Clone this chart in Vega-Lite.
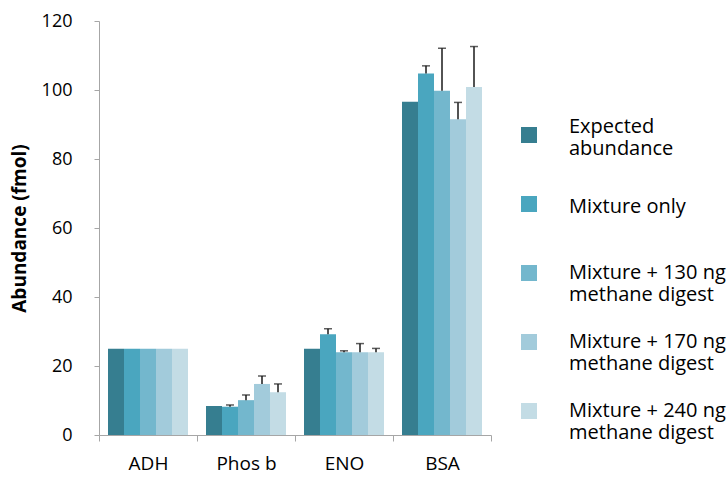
{
  "$schema": "https://vega.github.io/schema/vega-lite/v6.json",
  "width": 392,
  "height": 414,
  "autosize": "none",
  "padding": {"left": 99, "top": 21, "right": 236, "bottom": 69},
  "background": "white",
  "config": {
    "font": "Open Sans",
    "view": {"stroke": null}
  },
  "data": {
    "values": [
      {"protein": "ADH", "series": "Expected abundance", "value": 25, "upper": null},
      {"protein": "ADH", "series": "Mixture only", "value": 25, "upper": null},
      {"protein": "ADH", "series": "Mixture + 130 ng methane digest", "value": 25, "upper": null},
      {"protein": "ADH", "series": "Mixture + 170 ng methane digest", "value": 25, "upper": null},
      {"protein": "ADH", "series": "Mixture + 240 ng methane digest", "value": 25, "upper": null},
      {"protein": "Phos b", "series": "Expected abundance", "value": 8.4, "upper": null},
      {"protein": "Phos b", "series": "Mixture only", "value": 8.2, "upper": 8.7},
      {"protein": "Phos b", "series": "Mixture + 130 ng methane digest", "value": 10.1, "upper": 11.6},
      {"protein": "Phos b", "series": "Mixture + 170 ng methane digest", "value": 14.8, "upper": 17.1},
      {"protein": "Phos b", "series": "Mixture + 240 ng methane digest", "value": 12.4, "upper": 14.8},
      {"protein": "ENO", "series": "Expected abundance", "value": 25, "upper": null},
      {"protein": "ENO", "series": "Mixture only", "value": 29.2, "upper": 30.8},
      {"protein": "ENO", "series": "Mixture + 130 ng methane digest", "value": 24.0, "upper": 24.4},
      {"protein": "ENO", "series": "Mixture + 170 ng methane digest", "value": 24.0, "upper": 26.5},
      {"protein": "ENO", "series": "Mixture + 240 ng methane digest", "value": 24.0, "upper": 25.1},
      {"protein": "BSA", "series": "Expected abundance", "value": 96.6, "upper": null},
      {"protein": "BSA", "series": "Mixture only", "value": 104.8, "upper": 107.0},
      {"protein": "BSA", "series": "Mixture + 130 ng methane digest", "value": 99.8, "upper": 112.1},
      {"protein": "BSA", "series": "Mixture + 170 ng methane digest", "value": 91.5, "upper": 96.4},
      {"protein": "BSA", "series": "Mixture + 240 ng methane digest", "value": 100.9, "upper": 112.6}
    ]
  },
  "encoding": {
    "x": {
      "field": "protein",
      "type": "nominal",
      "sort": ["ADH", "Phos b", "ENO", "BSA"],
      "scale": {"paddingInner": 0, "paddingOuter": 0},
      "axis": {
        "title": null,
        "labelAngle": 0,
        "labelFontSize": 19,
        "labelColor": "#000000",
        "labelPadding": 13,
        "domainColor": "#a6a6a6",
        "tickColor": "#a6a6a6",
        "tickSize": 6,
        "tickBand": "extent"
      }
    },
    "xOffset": {
      "field": "series",
      "sort": [
        "Expected abundance",
        "Mixture only",
        "Mixture + 130 ng methane digest",
        "Mixture + 170 ng methane digest",
        "Mixture + 240 ng methane digest"
      ],
      "scale": {"paddingInner": 0, "paddingOuter": 0.5625}
    }
  },
  "layer": [
    {
      "mark": {"type": "bar"},
      "encoding": {
        "y": {
          "field": "value",
          "type": "quantitative",
          "scale": {"domain": [0, 120], "nice": false},
          "axis": {
            "values": [0, 20, 40, 60, 80, 100, 120],
            "grid": false,
            "title": "Abundance (fmol)",
            "titleFontSize": 19,
            "titleFontWeight": "bold",
            "titleColor": "#000000",
            "titlePadding": 12,
            "labelFontSize": 18,
            "labelColor": "#000000",
            "labelPadding": 22,
            "domainColor": "#a6a6a6",
            "tickColor": "#a6a6a6",
            "tickSize": 5
          }
        },
        "color": {
          "field": "series",
          "type": "nominal",
          "scale": {
            "domain": [
              "Expected abundance",
              "Mixture only",
              "Mixture + 130 ng methane digest",
              "Mixture + 170 ng methane digest",
              "Mixture + 240 ng methane digest"
            ],
            "range": ["#367e90", "#4aa6bf", "#73b7cd", "#a2cbdb", "#c3dce5"]
          },
          "legend": {
            "title": null,
            "orient": "none",
            "legendX": 420,
            "legendY": 104,
            "symbolType": "square",
            "symbolSize": 256,
            "symbolStrokeWidth": 0,
            "symbolOpacity": 1,
            "labelFontSize": 20,
            "labelColor": "#000000",
            "labelLimit": 300,
            "labelOffset": 30,
            "gridAlign": "all",
            "rowPadding": 27,
            "labelExpr": "datum.label == 'Expected abundance' ? ['Expected', 'abundance'] : datum.label == 'Mixture only' ? datum.label : [replace(datum.label, ' methane digest', ''), 'methane digest']",
            "encode": {
              "labels": {
                "update": {
                  "lineHeight": {"value": 21.5},
                  "dy": {"signal": "datum.label == 'Expected abundance' ? -8 : datum.label == 'Mixture only' ? 3 : 0"}
                }
              }
            }
          }
        }
      }
    },
    {
      "transform": [{"filter": "datum.upper != null"}],
      "mark": {"type": "rule", "color": "#1a1a1a", "strokeWidth": 1.5},
      "encoding": {
        "y": {"field": "value", "type": "quantitative"},
        "y2": {"field": "upper"}
      }
    },
    {
      "transform": [{"filter": "datum.upper != null"}],
      "mark": {"type": "tick", "orient": "horizontal", "color": "#1a1a1a", "size": 8, "thickness": 1.5},
      "encoding": {
        "y": {"field": "upper", "type": "quantitative"}
      }
    }
  ]
}
